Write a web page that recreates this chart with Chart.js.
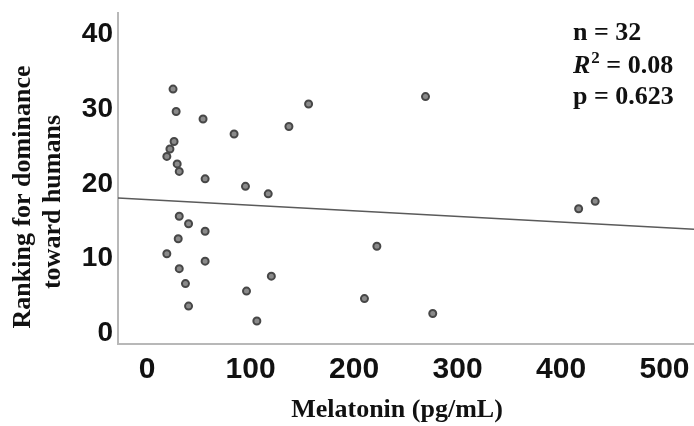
<!DOCTYPE html>
<html>
<head>
<meta charset="utf-8">
<script src="https://cdn.jsdelivr.net/npm/chart.js@4/dist/chart.umd.min.js"></script>
<style>
    html, body { margin: 0; padding: 0; background: #fff; }
    #wrap { width: 694px; height: 426px; }
</style>
</head>
<body>
<div id="wrap"><canvas id="scatterChart" width="694" height="426"></canvas></div>
<script>
// Melatonin (pg/mL) vs ranking
const melatonin = [25, 28, 54, 84, 137, 156, 26, 22, 19, 29, 31, 56, 95, 117, 31, 40,
                   56, 30, 19, 56, 31, 37, 96, 120, 40, 106, 269, 222, 210, 276, 417, 433];
const ranking = [32, 29, 28, 26, 27, 30, 25, 24, 23, 22, 21, 20, 19, 18, 15, 14,
                 13, 12, 10, 9, 8, 6, 5, 7, 3, 1, 31, 11, 4, 2, 16, 17];

// fitted line, ends read at the plot edges
const fitX = [-28.2, 528.5];
const fitY = [17.46, 13.26];

const xTicks = [0, 100, 200, 300, 400, 500];
const yTicks = [0, 10, 20, 30, 40];

const statLines = ['n = 32', 'R2 = 0.08', 'p = 0.623'];

const points = melatonin.map((x, i) => ({ x: x, y: ranking[i] }));
const fitLine = fitX.map((x, i) => ({ x: x, y: fitY[i] }));

// Axis titles and the stats box
const textPlugin = {
    id: 'textPlugin',
    afterDraw(chart) {
        const ctx = chart.ctx;
        ctx.save();
        ctx.fillStyle = '#111';

        // y title, two lines
        ctx.font = 'bold 26px "Liberation Serif", "Times New Roman", serif';
        ctx.textAlign = 'center';
        ctx.textBaseline = 'middle';
        ctx.save();
        ctx.translate(23, 197);
        ctx.rotate(-Math.PI / 2);
        ctx.fillText('Ranking for dominance', 0, 0);
        ctx.restore();
        ctx.save();
        ctx.translate(53, 202);
        ctx.rotate(-Math.PI / 2);
        ctx.fillText('toward humans', 0, 0);
        ctx.restore();

        // x title
        ctx.fillText('Melatonin (pg/mL)', 397, 410);

        // stats
        ctx.textAlign = 'left';
        const left = 573;
        ctx.fillText(statLines[0], left, 33);

        ctx.font = 'italic bold 26px "Liberation Serif", "Times New Roman", serif';
        ctx.fillText('R', left, 66);
        let w = ctx.measureText('R').width;
        ctx.font = 'bold 17px "Liberation Serif", "Times New Roman", serif';
        ctx.fillText('2', left + w + 1, 59);
        w += ctx.measureText('2').width + 1;
        ctx.font = 'bold 26px "Liberation Serif", "Times New Roman", serif';
        ctx.fillText(statLines[1].slice(2), left + w, 66);

        ctx.fillText(statLines[2], left, 97);
        ctx.restore();
    }
};

const ctx = document.getElementById('scatterChart').getContext('2d');

new Chart(ctx, {
    type: 'scatter',
    data: {
        datasets: [
            {
                label: 'Dogs',
                data: points,
                pointRadius: 3.5,
                pointBackgroundColor: '#8a8a8a',
                pointBorderColor: '#474747',
                pointBorderWidth: 2
            },
            {
                label: 'Fit',
                type: 'line',
                data: fitLine,
                showLine: true,
                borderColor: '#5a5a5a',
                borderWidth: 1.5,
                pointRadius: 0,
                fill: false
            }
        ]
    },
    options: {
        responsive: false,
        animation: false,
        layout: {
            autoPadding: false,
            padding: { top: 13, right: 0, left: 0, bottom: 0 }
        },
        plugins: {
            legend: { display: false },
            tooltip: { enabled: false }
        },
        scales: {
            x: {
                type: 'linear',
                min: -28.2,
                max: 528.5,
                afterBuildTicks: scale => { scale.ticks = xTicks.map(v => ({ value: v })); },
                afterFit: scale => {
                    scale.height = 82;
                    scale.paddingLeft = 0;
                    scale.paddingRight = 0;
                },
                grid: { display: false, drawTicks: false },
                border: { display: true, color: '#b8b8b8', width: 2 },
                ticks: {
                    color: '#111',
                    padding: 8,
                    font: { family: '"Liberation Sans", Arial, sans-serif', size: 30, weight: 'bold' }
                }
            },
            y: {
                type: 'linear',
                min: -2.07,
                max: 42.17,
                afterBuildTicks: scale => { scale.ticks = yTicks.map(v => ({ value: v })); },
                afterFit: scale => {
                    scale.width = 118;
                    scale.paddingTop = 0;
                    scale.paddingBottom = 0;
                },
                grid: { display: false, drawTicks: false },
                border: { display: true, color: '#b8b8b8', width: 2 },
                ticks: {
                    color: '#111',
                    padding: 5,
                    labelOffset: 5,
                    font: { family: '"Liberation Sans", Arial, sans-serif', size: 28, weight: 'bold' }
                }
            }
        }
    },
    plugins: [textPlugin]
});
</script>
</body>
</html>
